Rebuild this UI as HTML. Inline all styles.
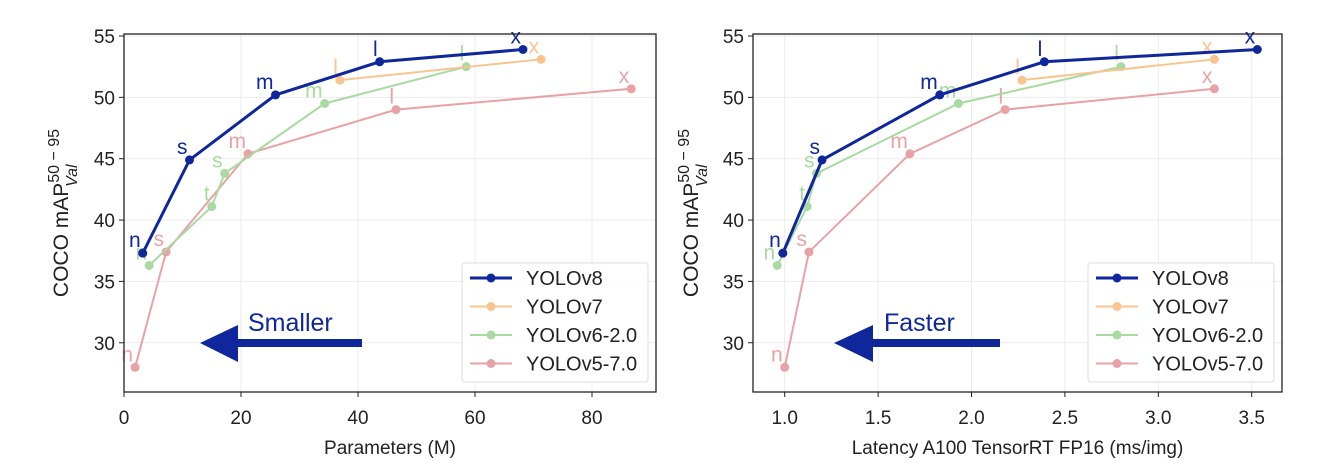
<!DOCTYPE html>
<html><head><meta charset="utf-8"><style>
html,body{margin:0;padding:0;background:#fff;}
svg{display:block;font-family:"Liberation Sans",sans-serif;}
</style></head><body>
<svg id="s" width="1325" height="470" xmlns="http://www.w3.org/2000/svg"></svg>
<script>
const S=document.getElementById('s');let h='';
const C={v8:'#10279c',v7:'#f8c590',v6:'#a8daa2',v5:'#e8a2a5'};
function yv(v){return 36+(55-v)*12.27;}
function plot(o){
 const {x0,x1,xticks,fmt,data,xlabel,leg,arrow,word}=o;
 const X=p=>o.xm(p);
 h+=`<rect x="${x0}" y="34" width="${x1-x0}" height="358" fill="#fff"/>`;
 xticks.forEach(t=>{const x=X(t);h+=`<line x1="${x}" y1="34" x2="${x}" y2="392" stroke="#ebebeb" stroke-width="1"/>`;
  h+=`<line x1="${x}" y1="392" x2="${x}" y2="397" stroke="#222"/><text x="${x}" y="424" font-size="19" text-anchor="middle" fill="#222">${fmt(t)}</text>`;});
 [30,35,40,45,50,55].forEach(v=>{const y=yv(v);h+=`<line x1="${x0}" y1="${y}" x2="${x1}" y2="${y}" stroke="#ebebeb"/>`;
  h+=`<line x1="${x0-5}" y1="${y}" x2="${x0}" y2="${y}" stroke="#222"/><text x="${x0-9}" y="${y+7}" font-size="19" text-anchor="end" fill="#222">${v}</text>`;});
 const a=arrow;
 h+=`<rect x="${a.hb-2}" y="339" width="${a.end-a.hb+2}" height="8" fill="${C.v8}"/><polygon points="${a.tip},343 ${a.hb},325 ${a.hb},362" fill="${C.v8}"/>`;
 h+=`<text x="${a.tx}" y="331" font-size="25" fill="${C.v8}">${word}</text>`;
 ['v5','v6','v7','v8'].forEach(k=>{const d=data[k];const w=k=='v8'?3:2;
  h+=`<polyline fill="none" stroke="${C[k]}" stroke-width="${w}" points="${d.map(p=>X(p[0])+','+yv(p[1])).join(' ')}"/>`;
  d.forEach(p=>{const x=X(p[0]),y=yv(p[1]);h+=`<circle cx="${x}" cy="${y}" r="4.5" fill="${C[k]}"/>`;
   h+=`<text x="${x-2}" y="${y-6}" font-size="21" text-anchor="end" fill="${C[k]}">${p[2]}</text>`;});});
 h+=`<rect x="${x0}" y="34" width="${x1-x0}" height="358" fill="none" stroke="#222" stroke-width="1.3"/>`;
 h+=`<rect x="${leg}" y="263" width="186" height="119" rx="3" fill="#fff" fill-opacity="0.85" stroke="#ddd"/>`;
 [['v8','YOLOv8'],['v7','YOLOv7'],['v6','YOLOv6-2.0'],['v5','YOLOv5-7.0']].forEach((e,i)=>{const y=278+i*28.5;
  h+=`<line x1="${leg+8}" y1="${y}" x2="${leg+50}" y2="${y}" stroke="${C[e[0]]}" stroke-width="${e[0]=='v8'?3:2}"/><circle cx="${leg+29}" cy="${y}" r="4.5" fill="${C[e[0]]}"/>`;
  h+=`<text x="${leg+64}" y="${y+7}" font-size="20" fill="#222">${e[1]}</text>`;});
 h+=`<text x="${(x0+x1)/2}" y="454" font-size="19" text-anchor="middle" fill="#222">${xlabel}</text>`;
 const lx=o.ylx;
 h+=`<text transform="translate(${lx},213) rotate(-90)" font-size="21" text-anchor="middle" fill="#222">COCO mAP<tspan font-size="16" dy="-9">50 − 95</tspan><tspan font-size="16" font-style="italic" dx="-58" dy="18">Val</tspan></text>`;
}
plot({x0:124,x1:656,xm:p=>124+p*5.85,xticks:[0,20,40,60,80],fmt:t=>t,ylx:68,
 data:{v8:[[3.2,37.3,'n'],[11.2,44.9,'s'],[25.9,50.2,'m'],[43.7,52.9,'l'],[68.2,53.9,'x']],
  v7:[[36.9,51.4,'l'],[71.3,53.1,'x']],
  v6:[[4.3,36.3,'n'],[15,41.1,'t'],[17.2,43.8,'s'],[34.3,49.5,'m'],[58.5,52.5,'l']],
  v5:[[1.9,28.0,'n'],[7.2,37.4,'s'],[21.2,45.4,'m'],[46.5,49.0,'l'],[86.7,50.7,'x']]},
 xlabel:'Parameters (M)',leg:462,arrow:{tip:200,hb:238,end:362,tx:248},word:'Smaller'});
plot({x0:753,x1:1282,xm:p=>784.7+(p-1)*186.8,xticks:[1,1.5,2,2.5,3,3.5],fmt:t=>t.toFixed(1),ylx:698,
 data:{v8:[[0.99,37.3,'n'],[1.20,44.9,'s'],[1.83,50.2,'m'],[2.39,52.9,'l'],[3.53,53.9,'x']],
  v7:[[2.27,51.4,'l'],[3.30,53.1,'x']],
  v6:[[0.96,36.3,'n'],[1.12,41.1,'t'],[1.17,43.8,'s'],[1.93,49.5,'m'],[2.80,52.5,'l']],
  v5:[[1.0,28.0,'n'],[1.13,37.4,'s'],[1.67,45.4,'m'],[2.18,49.0,'l'],[3.30,50.7,'x']]},
 xlabel:'Latency A100 TensorRT FP16 (ms/img)',leg:1088,arrow:{tip:834,hb:873,end:1000,tx:884},word:'Faster'});
S.innerHTML=h;
</script>
</body></html>
